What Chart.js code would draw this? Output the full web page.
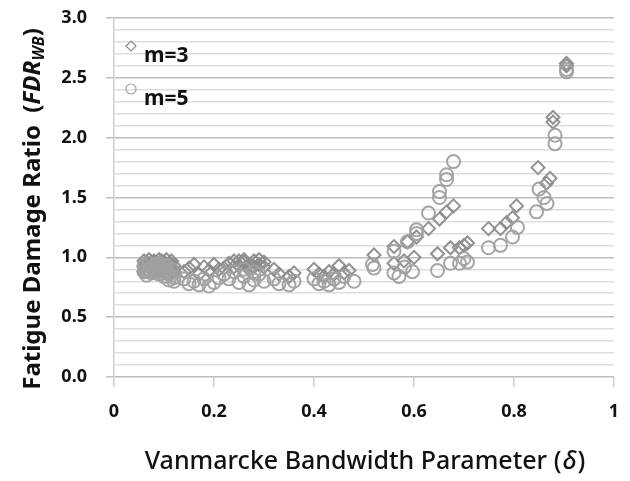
<!DOCTYPE html>
<html>
<head>
<meta charset="utf-8">
<script src="https://cdn.jsdelivr.net/npm/chart.js@4"></script>
<style>
  html, body { margin: 0; padding: 0; background: #fff; }
  #wrap { width: 630px; height: 481px; }
</style>
</head>
<body>
<div id="wrap"><canvas id="myChart"></canvas></div>
<script>
// m=3 (diamonds)
var m3X = [0.06, 0.06, 0.06, 0.065, 0.065, 0.07, 0.07, 0.07, 0.075, 0.075, 0.08, 0.08, 0.08, 0.085, 0.085, 0.09, 0.09, 0.09, 0.095, 0.095,
           0.10, 0.10, 0.10, 0.105, 0.105, 0.11, 0.11, 0.11, 0.115, 0.115, 0.12, 0.12,
           0.14, 0.15, 0.16, 0.17, 0.18, 0.19, 0.20, 0.21,
           0.22, 0.23, 0.24, 0.24, 0.25, 0.25, 0.26, 0.26, 0.27, 0.27, 0.28, 0.28, 0.29, 0.29, 0.30, 0.30,
           0.32, 0.33, 0.35, 0.36,
           0.40, 0.41, 0.42, 0.43, 0.44, 0.45, 0.46, 0.47,
           0.52,
           0.56, 0.56, 0.58, 0.587, 0.60, 0.605, 0.629, 0.651, 0.665, 0.679,
           0.647, 0.673, 0.691, 0.707, 0.70,
           0.749, 0.773, 0.785, 0.797, 0.805,
           0.848, 0.865, 0.872, 0.878, 0.878, 0.905, 0.905];
var m3Y = [0.97, 0.92, 0.88, 0.95, 0.90, 0.98, 0.93, 0.88, 0.96, 0.91, 0.97, 0.93, 0.89, 0.95, 0.90, 0.98, 0.94, 0.89, 0.97, 0.92,
           0.96, 0.91, 0.87, 0.98, 0.93, 0.95, 0.90, 0.86, 0.97, 0.92, 0.93, 0.88,
           0.88, 0.91, 0.94, 0.86, 0.92, 0.89, 0.94, 0.90,
           0.91, 0.95, 0.97, 0.92, 0.93, 0.97, 0.96, 0.98, 0.94, 0.90, 0.97, 0.92, 0.98, 0.94, 0.96, 0.92,
           0.90, 0.86, 0.84, 0.87,
           0.90, 0.86, 0.84, 0.88, 0.86, 0.93, 0.87, 0.89,
           1.02,
           1.09, 0.95, 0.97, 1.13, 1.00, 1.17, 1.24, 1.32, 1.38, 1.43,
           1.03, 1.08, 1.08, 1.12, 1.10,
           1.24, 1.24, 1.29, 1.33, 1.43,
           1.75, 1.62, 1.66, 2.17, 2.13, 2.62, 2.60];

// m=5 (circles)
var m5X = [0.06, 0.06, 0.065, 0.065, 0.07, 0.07, 0.075, 0.075, 0.08, 0.08, 0.085, 0.085, 0.09, 0.09, 0.095, 0.095, 0.10, 0.10, 0.10,
           0.105, 0.105, 0.11, 0.11, 0.115, 0.115, 0.12, 0.12,
           0.14, 0.15, 0.16, 0.17, 0.18, 0.19, 0.20, 0.21,
           0.22, 0.23, 0.24, 0.25, 0.26, 0.26, 0.27, 0.28, 0.28, 0.29, 0.30,
           0.32, 0.33, 0.35, 0.36,
           0.40, 0.41, 0.42, 0.43, 0.44, 0.45, 0.46, 0.48,
           0.517, 0.52,
           0.56, 0.56, 0.57, 0.581, 0.587, 0.597, 0.605, 0.605, 0.629, 0.651, 0.651, 0.665, 0.665, 0.679,
           0.647, 0.673, 0.691, 0.707, 0.70,
           0.749, 0.773, 0.797, 0.807,
           0.85, 0.845, 0.866, 0.86, 0.882, 0.882, 0.905, 0.905];
var m5Y = [0.93, 0.88, 0.85, 0.90, 0.95, 0.90, 0.87, 0.92, 0.93, 0.88, 0.89, 0.94, 0.86, 0.95, 0.91, 0.87, 0.88, 0.84, 0.93,
           0.93, 0.89, 0.86, 0.81, 0.90, 0.85, 0.83, 0.80,
           0.82, 0.78, 0.80, 0.77, 0.82, 0.76, 0.79, 0.83,
           0.86, 0.82, 0.88, 0.79, 0.84, 0.90, 0.77, 0.81, 0.88, 0.86, 0.80,
           0.82, 0.78, 0.77, 0.80,
           0.82, 0.78, 0.80, 0.77, 0.82, 0.79, 0.84, 0.80,
           0.94, 0.91,
           1.05, 0.87, 0.84, 0.92, 1.13, 0.88, 1.23, 1.20, 1.37, 1.55, 1.50, 1.69, 1.65, 1.80,
           0.89, 0.95, 0.95, 0.96, 0.99,
           1.08, 1.10, 1.17, 1.25,
           1.57, 1.38, 1.45, 1.50, 2.02, 1.95, 2.57, 2.55];

var xTicks = [0, 0.2, 0.4, 0.6, 0.8, 1];
var yTickLabels = ['0.0', '0.5', '1.0', '1.5', '2.0', '2.5', '3.0'];

function toPoints(xs, ys) {
    var pts = [];
    for (var i = 0; i < xs.length; i++) pts.push({x: xs[i], y: ys[i]});
    return pts;
}

function isMajor(v) {
    return Math.abs(v * 2 - Math.round(v * 2)) < 1e-6;
}

var font = "'Noto Sans', 'Open Sans', sans-serif";

// titles and legend drawn by hand (subscript, legend inside the plot)
var extras = {
    id: 'extras',
    afterDraw: function(chart) {
        var c = chart.ctx;
        c.save();

        // legend
        c.lineWidth = 1.2;
        c.strokeStyle = '#8c8c8c';
        var lx = 131, ly = 46;
        c.beginPath();
        c.moveTo(lx, ly - 5); c.lineTo(lx + 5, ly); c.lineTo(lx, ly + 5); c.lineTo(lx - 5, ly); c.closePath();
        c.stroke();
        c.strokeStyle = '#a6a6a6';
        c.beginPath();
        c.arc(lx, ly + 43, 5, 0, Math.PI * 2);
        c.stroke();
        c.fillStyle = '#111';
        c.font = 'bold 21px ' + font;
        c.textBaseline = 'middle';
        c.textAlign = 'left';
        c.fillText('m=3', lx + 13, ly + 10);
        c.fillText('m=5', lx + 13, ly + 53);

        // x title
        var xt1 = 'Vanmarcke Bandwidth Parameter (';
        c.font = '500 25px ' + font;
        var w1 = c.measureText(xt1).width;
        c.font = 'italic 500 25px ' + font;
        var w2 = c.measureText('\u03b4').width + 2;
        c.font = '500 25px ' + font;
        var w3 = c.measureText(')').width;
        var cx = 365;
        var sx = cx - (w1 + w2 + w3) / 2;
        c.fillText(xt1, sx, 462);
        c.font = 'italic 500 25px ' + font;
        c.fillText('\u03b4', sx + w1 + 1, 462);
        c.font = '500 25px ' + font;
        c.fillText(')', sx + w1 + w2, 462);

        // y title (rotated)
        c.translate(33, 209);
        c.rotate(-Math.PI / 2);
        var parts = [
            {t: 'Fatigue Damage Ratio  (', f: 'bold 24px ' + font, dy: 0},
            {t: 'FDR', f: 'italic bold 24px ' + font, dy: 0},
            {t: 'WB', f: 'italic bold 16px ' + font, dy: 6},
            {t: ')', f: 'bold 24px ' + font, dy: 0}
        ];
        var total = 0;
        parts.forEach(function(p) { c.font = p.f; p.w = c.measureText(p.t).width; total += p.w; });
        var px = -total / 2;
        parts.forEach(function(p) {
            c.font = p.f;
            c.fillText(p.t, px, p.dy);
            px += p.w;
        });
        c.restore();
    }
};

var ctx = document.getElementById('myChart');

new Chart(ctx, {
    type: 'scatter',
    data: {
        datasets: [{
            label: 'm=5',
            data: toPoints(m5X, m5Y),
            pointStyle: 'circle',
            pointRadius: 6.5,
            pointBorderWidth: 2,
            borderColor: 'rgba(160, 160, 160, 0.95)',
            backgroundColor: 'rgba(0, 0, 0, 0)'
        }, {
            label: 'm=3',
            data: toPoints(m3X, m3Y),
            pointStyle: 'rectRot',
            pointRadius: 6.5,
            pointBorderWidth: 2,
            borderColor: 'rgba(140, 140, 140, 0.95)',
            backgroundColor: 'rgba(0, 0, 0, 0)'
        }]
    },
    options: {
        responsive: true,
        maintainAspectRatio: false,
        animation: false,
        events: [],
        layout: {
            autoPadding: false,
            padding: {left: 0, right: 16, top: 18, bottom: 0}
        },
        scales: {
            x: {
                type: 'linear',
                min: 0,
                max: 1,
                afterFit: function(scale) {
                    scale.height = 104;
                    scale.paddingLeft = 0;
                    scale.paddingRight = 0;
                },
                afterBuildTicks: function(scale) {
                    scale.ticks = xTicks.map(function(v) { return {value: v}; });
                },
                ticks: {
                    padding: 14,
                    color: '#111',
                    font: {family: font, size: 18, weight: 'bold'},
                    maxRotation: 0,
                    callback: function(v) { return String(v); }
                },
                grid: {
                    drawOnChartArea: false,
                    tickLength: 10,
                    tickColor: '#d0d0d0',
                    lineWidth: 1.5
                },
                border: {display: false}
            },
            y: {
                type: 'linear',
                min: 0,
                max: 3,
                afterFit: function(scale) {
                    scale.width = 114;
                    scale.paddingTop = 0;
                    scale.paddingBottom = 0;
                },
                ticks: {
                    stepSize: 0.1,
                    autoSkip: false,
                    padding: 19,
                    color: '#111',
                    font: {family: font, size: 18, weight: 'bold'},
                    callback: function(v) {
                        return isMajor(v) ? yTickLabels[Math.round(v * 2)] : '';
                    }
                },
                grid: {
                    tickLength: 8,
                    lineWidth: 1.5,
                    color: function(c) { return isMajor(c.tick.value) ? '#bdbdbd' : '#dedede'; },
                    tickColor: function(c) { return isMajor(c.tick.value) ? '#bdbdbd' : 'rgba(0,0,0,0)'; }
                },
                border: {display: true, color: '#d0d0d0', width: 1.5}
            }
        },
        plugins: {
            legend: {display: false},
            tooltip: {enabled: false}
        }
    },
    plugins: [extras]
});
</script>
</body>
</html>
